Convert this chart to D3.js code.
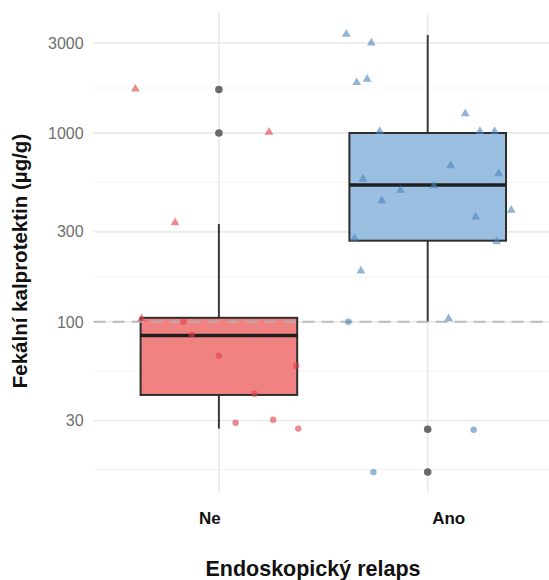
<!DOCTYPE html>
<html>
<head>
<meta charset="utf-8">
<script src="https://cdn.jsdelivr.net/npm/d3@7"></script>
<style>
  body { margin: 0; background: #ffffff; }
  text { font-family: "Liberation Sans", Arial, sans-serif; }
</style>
</head>
<body>
<div id="wrapper"></div>
<script>
// categories on the x axis
const categories = ["Ne", "Ano"];

// box statistics (whisker low, Q1, median, Q3, whisker high)
const whiskerLow = [27.2, 100];
const q1Values = [41, 269];
const medianValues = [84.6, 531];
const q3Values = [105, 1000];
const whiskerHigh = [330, 3300];

// outliers drawn by the boxplot (grey)
const outlierGroups = ["Ne", "Ne", "Ano", "Ano"];
const outlierValues = [1700, 1000, 27, 16];

// jittered observations
const pointGroups = [
  "Ne", "Ne", "Ne", "Ne", "Ne", "Ne", "Ne", "Ne", "Ne", "Ne", "Ne", "Ne",
  "Ano", "Ano", "Ano", "Ano", "Ano", "Ano", "Ano", "Ano", "Ano", "Ano", "Ano", "Ano",
  "Ano", "Ano", "Ano", "Ano", "Ano", "Ano", "Ano", "Ano", "Ano", "Ano", "Ano"
];
const pointValues = [
  1710, 1010, 335, 104, 100, 85.4, 66.1, 58.5, 41.6, 29.2, 30.3, 27.2,
  3340, 3000, 1850, 1930, 1265, 1020, 1020, 1020, 671, 609, 569, 498,
  526, 438, 390, 359, 277, 266, 186, 100, 104, 26.8, 16.0
];
const pointShapes = [
  "tri", "tri", "tri", "tri", "dot", "dot", "dot", "dot", "dot", "dot", "dot", "dot",
  "tri", "tri", "tri", "tri", "tri", "tri", "tri", "tri", "tri", "tri", "tri", "tri",
  "tri", "tri", "tri", "tri", "tri", "tri", "tri", "dot", "tri", "dot", "dot"
];
// horizontal jitter in category-step units
const pointJitter = [
  -0.40, 0.24, -0.21, -0.37, -0.17, -0.13, 0, 0.37, 0.17, 0.08, 0.26, 0.38,
  -0.39, -0.27, -0.34, -0.29, 0.18, -0.23, 0.25, 0.32, 0.11, 0.34, -0.31, -0.13,
  0.03, -0.22, 0.40, 0.23, -0.35, 0.33, -0.32, -0.38, 0.10, 0.22, -0.26
];

// y axis ticks
const yMajorTicks = [30, 100, 300, 1000, 3000];
const yMinorTicks = [16.5, 54.8, 173, 548, 1730];
const referenceLine = 100;

function drawBoxplot(){
    //1) Chart dimensions
    let dimensions = {
        width: 549,
        height: 580,
        margin: {
            top: 13,
            right: -4,
            bottom: 87,
            left: 93.6,
        },
    }
    dimensions.boundedWidth = dimensions.width - dimensions.margin.left - dimensions.margin.right;
    dimensions.boundedHeight = dimensions.height - dimensions.margin.top - dimensions.margin.bottom;

    //2) Canvas
    const wrapper = d3.select("#wrapper")
                        .append("svg")
                        .attr("width", dimensions.width)
                        .attr("height", dimensions.height)

    const bounds = wrapper.append("g")
                            .attr("transform", `translate(${dimensions.margin.left},${dimensions.margin.top})`)

    //3) Scales
    const xScale = d3.scalePoint()
                        .domain(categories)
                        .range([0, dimensions.boundedWidth])
                        .padding(0.6)
    const step = xScale.step();

    const yScale = d3.scaleLog()
                        .domain([12.4, 4320])
                        .range([dimensions.boundedHeight, 0])

    const fillColor = {Ne: "#f08282", Ano: "#9bbfe1"};
    const pointColor = {Ne: "#e0404a", Ano: "#4a84bb"};

    //4) Grid
    const grid = bounds.append("g")
    grid.selectAll(".minor")
        .data(yMinorTicks)
        .join("line")
        .attr("x1", 0).attr("x2", dimensions.boundedWidth)
        .attr("y1", d => yScale(d)).attr("y2", d => yScale(d))
        .attr("stroke", "#f3f3f3").attr("stroke-width", 1)
    grid.selectAll(".major")
        .data(yMajorTicks)
        .join("line")
        .attr("x1", 0).attr("x2", dimensions.boundedWidth)
        .attr("y1", d => yScale(d)).attr("y2", d => yScale(d))
        .attr("stroke", "#ebebeb").attr("stroke-width", 1.8)
    grid.selectAll(".vert")
        .data(categories)
        .join("line")
        .attr("x1", d => xScale(d)).attr("x2", d => xScale(d))
        .attr("y1", 0).attr("y2", dimensions.boundedHeight)
        .attr("stroke", "#ebebeb").attr("stroke-width", 1.8)

    //5) Boxes
    const boxWidth = step * 0.75;
    const boxes = bounds.selectAll(".box")
                        .data(categories)
                        .join("g")

    boxes.append("line")
        .attr("x1", d => xScale(d)).attr("x2", d => xScale(d))
        .attr("y1", (d, i) => yScale(q3Values[i])).attr("y2", (d, i) => yScale(whiskerHigh[i]))
        .attr("stroke", "#3a3a3a").attr("stroke-width", 2)
    boxes.append("line")
        .attr("x1", d => xScale(d)).attr("x2", d => xScale(d))
        .attr("y1", (d, i) => yScale(q1Values[i])).attr("y2", (d, i) => yScale(whiskerLow[i]))
        .attr("stroke", "#3a3a3a").attr("stroke-width", 2)
    boxes.append("rect")
        .attr("x", d => xScale(d) - boxWidth / 2)
        .attr("width", boxWidth)
        .attr("y", (d, i) => yScale(q3Values[i]))
        .attr("height", (d, i) => yScale(q1Values[i]) - yScale(q3Values[i]))
        .attr("fill", d => fillColor[d])
        .attr("stroke", "#2e2e2e").attr("stroke-width", 2)
    boxes.append("line")
        .attr("x1", d => xScale(d) - boxWidth / 2).attr("x2", d => xScale(d) + boxWidth / 2)
        .attr("y1", (d, i) => yScale(medianValues[i])).attr("y2", (d, i) => yScale(medianValues[i]))
        .attr("stroke", "#1e1e1e").attr("stroke-width", 3.5)

    // outliers
    bounds.selectAll(".outlier")
        .data(outlierValues)
        .join("circle")
        .attr("cx", (d, i) => xScale(outlierGroups[i]))
        .attr("cy", d => yScale(d))
        .attr("r", 3.8)
        .attr("fill", "#6a6a6a")

    //6) Reference line
    bounds.append("line")
        .attr("x1", 0).attr("x2", dimensions.boundedWidth)
        .attr("y1", yScale(referenceLine)).attr("y2", yScale(referenceLine))
        .attr("stroke", "#b3b3b3").attr("stroke-width", 2)
        .attr("stroke-dasharray", "12,7")
        .attr("opacity", 0.85)

    //7) Jittered points
    const triangle = d3.symbol().type(d3.symbolTriangle).size(34);
    const points = bounds.selectAll(".pt")
                        .data(pointValues)
                        .join("g")
                        .attr("transform", (d, i) => `translate(${xScale(pointGroups[i]) + pointJitter[i] * step},${yScale(d)})`)
    points.each(function(d, i){
        const g = d3.select(this);
        const mark = pointShapes[i] === "tri"
            ? g.append("path").attr("d", triangle)
            : g.append("circle").attr("r", 3.2);
        mark.attr("fill", pointColor[pointGroups[i]])
            .attr("fill-opacity", 0.6)
    })

    //8) Axes text
    bounds.selectAll(".ytick")
        .data(yMajorTicks)
        .join("text")
        .attr("x", -10)
        .attr("y", d => yScale(d))
        .attr("dy", "0.36em")
        .attr("text-anchor", "end")
        .attr("font-size", 16)
        .attr("fill", "#6e6e6e")
        .text(d => d)

    const labelShift = {Ne: -9, Ano: 21};
    bounds.selectAll(".xtick")
        .data(categories)
        .join("text")
        .attr("x", d => xScale(d) + labelShift[d])
        .attr("y", 511)
        .attr("text-anchor", "middle")
        .attr("font-size", 17)
        .attr("font-weight", "bold")
        .attr("fill", "#111")
        .text(d => d)

    wrapper.append("text")
        .attr("x", 313)
        .attr("y", 576)
        .attr("text-anchor", "middle")
        .attr("font-size", 21.5)
        .attr("font-weight", "bold")
        .attr("fill", "#111")
        .text("Endoskopický relaps")

    wrapper.append("text")
        .attr("transform", "translate(27,261) rotate(-90)")
        .attr("text-anchor", "middle")
        .attr("font-size", 20.5)
        .attr("font-weight", "bold")
        .attr("fill", "#111")
        .text("Fekální kalprotektin (µg/g)")
}
drawBoxplot()
</script>
</body>
</html>
